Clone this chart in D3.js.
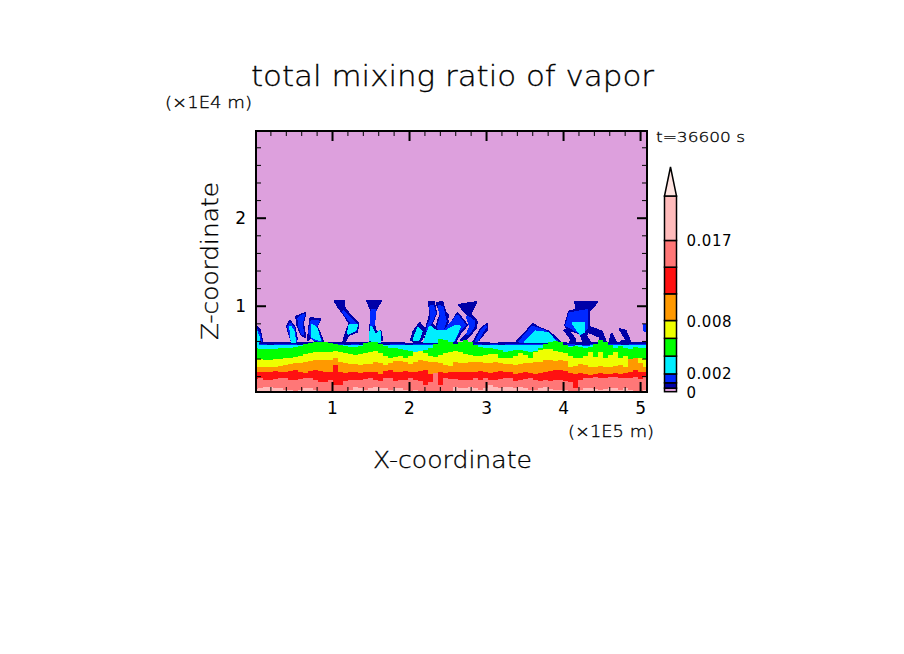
<!DOCTYPE html>
<html>
<head>
<meta charset="utf-8">
<script src="https://cdn.jsdelivr.net/npm/d3@7"></script>
<style>
body { margin: 0; background: #fff; }
text { font-family: "DejaVu Sans", sans-serif; font-weight: 200; fill: #000; stroke: #000; stroke-width: 0.3px; }
text.heavy { font-weight: 400; stroke: none; }
</style>
</head>
<body>
<div id="svg_div"><svg></svg></div>
<script>
// values, x in 1E5 m, z in 1E4 m
// thin top of the moist layer
var baseXs = [0,.1,.2,.3,.4,.5,.6,.7,.8,.9,1,1.1,1.2,1.3,1.4,1.5,1.6,1.7,1.8,1.9,2,2.1,2.2,2.3,2.4,2.5,2.6,2.7,2.8,2.9,3,3.1,3.2,3.3,3.4,3.5,3.6,3.7,3.8,3.9,4,4.1,4.2,4.3,4.4,4.5,4.6,4.7,4.8,4.9,5,5.13];
var darkTop = [.59,.59,.59,.59,.59,.59,.59,.59,.59,.58,.59,.59,.59,.59,.59,.59,.59,.59,.59,.59,.58,.59,.59,.59,.59,.59,.59,.59,.58,.59,.59,.58,.59,.59,.59,.59,.59,.59,.59,.59,.59,.58,.59,.59,.59,.59,.59,.59,.59,.59,.59,.59];
var blueTop = [.56,.56,.555,.56,.56,.56,.555,.56,.56,.555,.56,.56,.555,.56,.555,.56,.56,.555,.56,.56,.555,.56,.56,.56,.56,.56,.555,.56,.555,.56,.555,.56,.555,.56,.56,.56,.56,.56,.56,.555,.555,.56,.555,.555,.56,.555,.56,.56,.555,.56,.56,.56];
var cyanTop = [.55,.55,.55,.55,.555,.555,.55,.555,.55,.55,.55,.55,.55,.55,.55,.55,.555,.55,.55,.55,.55,.55,.555,.555,.555,.555,.55,.55,.55,.55,.55,.55,.55,.55,.55,.555,.555,.555,.555,.55,.55,.545,.55,.545,.55,.55,.55,.55,.55,.55,.55,.55];

// colour band boundaries, one value every 0.065
var bandXs = [0,.065,.13,.195,.26,.325,.39,.455,.52,.585,.65,.715,.78,.845,.91,.975,1.04,1.105,1.17,1.235,1.3,1.365,1.43,1.495,1.56,1.625,1.69,1.755,1.82,1.885,1.95,2.015,2.08,2.145,2.21,2.275,2.34,2.405,2.47,2.535,2.6,2.665,2.73,2.795,2.86,2.925,2.99,3.055,3.12,3.185,3.25,3.315,3.38,3.445,3.51,3.575,3.64,3.705,3.77,3.835,3.9,3.965,4.03,4.095,4.16,4.225,4.29,4.355,4.42,4.485,4.55,4.615,4.68,4.745,4.81,4.875,4.94,5.005,5.065,5.13];
var greenTop = [.515,.508,.508,.508,.508,.515,.523,.523,.531,.546,.561,.576,.591,.591,.584,.576,.561,.553,.546,.531,
	.534,.542,.572,.591,.584,.561,.546,.523,.515,.508,.497,.489,.478,.478,.497,.523,.561,.622,.610,.591,
	.561,.591,.610,.591,.553,.534,.523,.515,.508,.497,.478,.485,.497,.497,.485,.478,.485,.515,.561,
	.591,.599,.584,.553,.534,.546,.534,.523,.534,.561,.610,.584,.553,.523,.546,.523,.508,.534,.523,.515,.515];
var yellowTop = [.394,.394,.387,.387,.394,.394,.402,.409,.417,.432,.447,.462,.470,.470,.478,.478,.485,.470,.459,.447,
	.44,.447,.459,.470,.485,.459,.432,.409,.421,.432,.409,.432,.470,.485,.459,.432,.421,.44,.459,.478,
	.485,.470,.447,.44,.432,.432,.44,.447,.447,.409,.402,.409,.432,.459,.44,.402,.478,.497,.508,
	.508,.485,.478,.459,.432,.402,.409,.432,.470,.421,.470,.409,.44,.478,.402,.432,.394,.402,.409,.394,.394];
var orangeTop = [.307,.307,.30,.30,.307,.318,.326,.334,.345,.353,.364,.372,.379,.379,.383,.383,.402,.356,.345,.334,
	.334,.326,.334,.334,.356,.345,.326,.345,.372,.372,.356,.334,.356,.383,.372,.364,.356,.345,.326,.318,
	.356,.345,.345,.356,.364,.356,.345,.345,.356,.345,.334,.334,.326,.334,.345,.345,.356,.356,.383,
	.383,.372,.383,.372,.307,.318,.334,.326,.307,.307,.318,.307,.307,.318,.326,.307,.394,.402,.345,.307,.307];
var redTop = [.243,.243,.243,.25,.258,.25,.243,.258,.265,.243,.235,.258,.269,.258,.25,.25,.326,.243,.231,.243,
	.243,.231,.243,.25,.243,.22,.258,.269,.25,.25,.258,.25,.243,.258,.269,.22,.231,.243,.231,.25,
	.243,.25,.25,.243,.25,.258,.243,.231,.243,.258,.25,.243,.22,.231,.243,.231,.22,.231,.25,
	.258,.265,.265,.258,.231,.22,.231,.22,.212,.22,.231,.22,.22,.231,.22,.231,.243,.269,.243,.243,.243];
var salmonTop = [.167,.174,.156,.156,.167,.182,.174,.156,.156,.167,.182,.174,.156,.137,.137,.156,.099,.099,.144,.156,
	.156,.156,.167,.174,.156,.144,.174,.182,.144,.156,.156,.174,.156,.144,.099,.137,.231,.099,.174,.167,
	.167,.156,.156,.156,.182,.156,.174,.156,.156,.167,.174,.182,.144,.156,.167,.174,.156,.144,.156,
	.144,.156,.156,.144,.137,.069,.156,.174,.174,.193,.182,.182,.193,.193,.182,.174,.182,.193,.167,.193,.193];
var pinkTop = [.053,.069,.08,.08,.061,.069,.042,.042,.023,.042,.061,.061,.042,.023,.023,.023,.023,.023,.023,.042,
	.08,.061,.042,.061,.08,.061,.061,.042,.061,.069,.042,.023,.042,.023,.023,.023,.023,.023,.023,.023,
	.08,.069,.061,.08,.069,.042,.061,.099,.08,.061,.08,.08,.061,.08,.069,.042,.042,.061,.08,
	.053,.042,.042,.042,.023,.023,.042,.061,.061,.053,.042,.053,.061,.061,.042,.061,.042,.023,.023,.042,.042];

// rising plumes above the moist layer, one outline per list
var darkPlumes = [
	[[0,.77],[.06,.73],[.09,.6],[0,.58]],
	[[.45,.826],[.51,.761],[.54,.629],[.52,.572],[.48,.59],[.42,.761]],
	[[.54,.875],[.65,.913],[.62,.799],[.65,.648],[.61,.667],[.55,.78]],
	[[.72,.856],[.84,.845],[.80,.761],[.84,.686],[.88,.591],[.81,.572],[.72,.648],[.69,.61]],
	[[1.04,1.053],[1.15,1.053],[1.15,.989],[1.23,.894],[1.34,.799],[1.32,.705],[1.21,.667],[1.18,.61],[1.15,.591],[1.18,.686],[1.23,.799],[1.15,.913],[1.08,.989]],
	[[1.46,1.053],[1.63,1.053],[1.56,.951],[1.54,.799],[1.57,.686],[1.63,.705],[1.65,.61],[1.49,.591],[1.50,.761],[1.52,.932]],
	[[2.06,.705],[2.14,.799],[2.21,.723],[2.16,.61],[2.10,.591],[2.03,.61]],
	[[2.26,1.045],[2.32,1.045],[2.35,.913],[2.29,.799],[2.36,.742],[2.38,.837],[2.42,.913],[2.36,1.027],[2.43,1.045],[2.50,.82],[2.45,.686],[2.53,.686],[2.53,.591],[2.21,.591],[2.23,.761],[2.28,.913]],
	[[2.47,.93],[2.50,.894],[2.49,.799],[2.47,.78]],
	[[2.65,1.008],[2.87,1.038],[2.81,.932],[2.79,.905],[2.88,.82],[2.86,.742],[2.73,.61],[2.68,.61],[2.84,.761],[2.81,.856],[2.73,.932]],
	[[2.63,.913],[2.75,.78],[2.66,.686],[2.60,.591],[2.47,.591],[2.47,.705],[2.55,.799]],
	[[3.01,.788],[3.01,.731],[2.90,.61],[2.84,.591],[2.94,.742]],
	[[3.40,.591],[3.61,.788],[3.70,.742],[3.81,.705],[3.96,.591]],
	[[4.16,1.045],[4.44,1.045],[4.39,.989],[4.33,.932],[4.33,.761],[4.50,.705],[4.55,.591],[4.50,.553],[4.48,.648],[4.33,.705],[4.29,.667],[4.37,.553],[4.29,.553],[4.22,.686],[4.05,.742],[4.03,.78],[4.08,.932],[4.18,.951]],
	[[4.02,.723],[4.07,.715],[4.16,.61],[4.13,.572],[4.09,.58],[4.11,.617]],
	[[4.63,.678],[4.68,.591],[4.61,.591]],
	[[4.74,.731],[4.81,.715],[4.87,.591],[4.76,.591],[4.83,.61]]
];
var bluePlumes = [
	[[.02,.72],[.05,.68],[.07,.6],[.02,.59]],
	[[.46,.79],[.5,.74],[.525,.6],[.48,.6],[.44,.76]],
	[[.57,.86],[.63,.89],[.6,.8],[.62,.68],[.58,.76]],
	[[.74,.82],[.82,.82],[.78,.75],[.82,.68],[.85,.6],[.76,.62],[.71,.7]],
	[[1.15,.93],[1.3,.80],[1.3,.72],[1.21,.70],[1.26,.80]],
	[[1.52,.951],[1.56,.951],[1.54,.8],[1.51,.76]],
	[[2.28,.99],[2.31,.99],[2.33,.91],[2.26,.79],[2.24,.72],[2.3,.85]],
	[[2.39,.99],[2.43,.98],[2.47,.82],[2.43,.72],[2.38,.75],[2.42,.88]],
	[[2.76,.87],[2.84,.82],[2.83,.75],[2.76,.68],[2.80,.76]],
	[[2.63,.88],[2.72,.78],[2.63,.7],[2.58,.6],[2.47,.6],[2.47,.72],[2.55,.8]],
	[[2.99,.76],[2.96,.72],[2.88,.6],[2.95,.72]],
	[[3.44,.59],[3.6,.755],[3.77,.705],[3.92,.59]],
	[[4.09,.91],[4.31,.943],[4.31,.76],[4.24,.686],[4.05,.78]],
	[[5.06,.78],[5.10,.78],[5.10,.705],[5.06,.723]]
];
var cyanPlumes = [
	[[.02,.705],[.05,.63],[.04,.57],[.02,.57]],
	[[.46,.76],[.50,.705],[.52,.59],[.48,.59]],
	[[.74,.78],[.80,.74],[.84,.61],[.74,.648]],
	[[1.23,.78],[1.32,.78],[1.30,.723],[1.21,.686]],
	[[1.49,.61],[1.51,.76],[1.56,.667],[1.62,.705],[1.62,.59]],
	[[2.06,.61],[2.12,.742],[2.16,.705],[2.12,.61]],
	[[2.2,.59],[2.27,.761],[2.36,.705],[2.40,.705],[2.47,.705],[2.60,.77],[2.66,.761],[2.58,.61],[2.53,.59]],
	[[3.51,.59],[3.64,.705],[3.81,.686],[3.90,.59]],
	[[4.13,.799],[4.27,.799],[4.27,.705],[4.22,.686]]
];

var xMajor = [1,2,3,4,5];
var xMinor = [.2,.4,.6,.8,1.2,1.4,1.6,1.8,2.2,2.4,2.6,2.8,3.2,3.4,3.6,3.8,4.2,4.4,4.6,4.8,5];
var zMajor = [1,2];
var zMinor = [.2,.4,.6,.8,1.2,1.4,1.6,1.8,2.2,2.4,2.6,2.8];

// colour bar
var levels = [0,.0004,.001,.002,.004,.006,.008,.011,.014,.017,.022];
var levelColors = ["#dda0dd","#0000a8","#0028ff","#00eeff","#00ff00","#eeff00","#ff9900","#ff1111","#ff7777","#ffbbbb"];
var overColor = "#ffe4e1";
var barLabels = [0,.002,.008,.017];

var w = 904, h = 654;
var svg = d3.select("#svg_div").select("svg").attr("width", w).attr("height", h).style("display", "block");

var plotLeft = 256, plotRight = 647, plotTop = 131, plotBottom = 392;
var xScale = d3.scaleLinear().domain([.013, 5.09]).range([plotLeft, plotRight]);
var zScale = d3.scaleLinear().domain([.02, 2.985]).range([plotBottom, plotTop]);

svg.append("clipPath").attr("id", "plot").append("rect")
	.attr("x", plotLeft).attr("y", plotTop).attr("width", plotRight - plotLeft).attr("height", plotBottom - plotTop);

var plot = svg.append("g").attr("clip-path", "url(#plot)").attr("shape-rendering", "crispEdges");
plot.append("rect").attr("x", plotLeft).attr("y", plotTop).attr("width", plotRight - plotLeft).attr("height", plotBottom - plotTop)
	.attr("fill", levelColors[0]);

var line = d3.line()
	.x(function(d) { return xScale(d[0]); })
	.y(function(d) { return zScale(d[1]); })
	.curve(d3.curveLinearClosed);

function drawPlumes(list, color, grow) {
	plot.append("g").selectAll("path").data(list).enter().append("path")
		.attr("d", line).attr("fill", color)
		.attr("stroke", color).attr("stroke-width", grow).attr("stroke-linejoin", "round");
}
function drawLayer(values, xValues, color) {
	var area = d3.area()
		.x(function(d, i) { return xScale(xValues[i]); })
		.y0(plotBottom)
		.y1(function(d) { return zScale(d); })
		.curve(d3.curveStep);
	plot.append("path").attr("d", area(values)).attr("fill", color);
}

drawLayer(darkTop, baseXs, levelColors[1]);
drawPlumes(darkPlumes, levelColors[1], 2.5);
drawLayer(blueTop, baseXs, levelColors[2]);
drawPlumes(bluePlumes, levelColors[2], 3);
drawLayer(cyanTop, baseXs, levelColors[3]);
drawPlumes(cyanPlumes, levelColors[3], 2.5);
drawLayer(greenTop, bandXs, levelColors[4]);
drawLayer(yellowTop, bandXs, levelColors[5]);
drawLayer(orangeTop, bandXs, levelColors[6]);
drawLayer(redTop, bandXs, levelColors[7]);
drawLayer(salmonTop, bandXs, levelColors[8]);
drawLayer(pinkTop, bandXs, levelColors[9]);

// ticks point inward on all four sides
function addAxis(axis, tx, ty, values, size, weight, labelled) {
	var g = svg.append("g").attr("transform", "translate(" + tx + "," + ty + ")")
		.call(axis.tickValues(values).tickSize(-size).tickPadding(labelled ? 10 : 0)
			.tickFormat(labelled ? d3.format("d") : ""));
	g.select(".domain").remove();
	g.selectAll("line").attr("stroke", "#000").attr("stroke-width", weight);
	g.selectAll("text").attr("class", "heavy").style("font-size", "17px");
}
addAxis(d3.axisBottom(xScale), 0, plotBottom, xMinor, 5, 1, false);
addAxis(d3.axisBottom(xScale), 0, plotBottom, xMajor, 10, 2, true);
addAxis(d3.axisTop(xScale), 0, plotTop, xMinor, 5, 1, false);
addAxis(d3.axisTop(xScale), 0, plotTop, xMajor, 10, 2, false);
addAxis(d3.axisLeft(zScale), plotLeft, 0, zMinor, 5, 1, false);
addAxis(d3.axisLeft(zScale), plotLeft, 0, zMajor, 10, 2, true);
addAxis(d3.axisRight(zScale), plotRight, 0, zMinor, 5, 1, false);
addAxis(d3.axisRight(zScale), plotRight, 0, zMajor, 10, 2, false);

svg.append("rect").attr("x", plotLeft).attr("y", plotTop).attr("width", plotRight - plotLeft).attr("height", plotBottom - plotTop)
	.attr("fill", "none").attr("stroke", "#000").attr("stroke-width", 2);

// colour bar
var barX = 664.5, barW = 12;
var barScale = d3.scaleLinear().domain([0, .022]).range([391.7, 196]);
svg.append("g").selectAll("rect").data(levelColors).enter().append("rect")
	.attr("x", barX).attr("width", barW)
	.attr("y", function(d, i) { return barScale(levels[i + 1]); })
	.attr("height", function(d, i) { return barScale(levels[i]) - barScale(levels[i + 1]); })
	.attr("fill", function(d) { return d; })
	.attr("stroke", "#000").attr("stroke-width", 1.5);
svg.append("path")
	.attr("d", "M" + barX + "," + barScale(.022) + "L" + (barX + barW / 2) + ",167L" + (barX + barW) + "," + barScale(.022) + "Z")
	.attr("fill", overColor).attr("stroke", "#000").attr("stroke-width", 1.5);
svg.append("g").selectAll("text").data(barLabels).enter().append("text")
	.attr("class", "heavy")
	.attr("x", 686.5)
	.attr("y", function(d) { return barScale(d) + (d == .002 ? 5 : 6); })
	.attr("font-size", 15)
	.attr("textLength", function(d) { return d == 0 ? null : 45; })
	.text(function(d) { return d == 0 ? "0" : String(d); });

// titles and unit labels
function label(str, x, y, size, length) {
	return svg.append("text").attr("x", x).attr("y", y).attr("font-size", size)
		.attr("textLength", length).attr("lengthAdjust", "spacingAndGlyphs").text(str);
}
label("total mixing ratio of vapor", 251, 86, 28, 403);
label("(×1E4 m)", 165, 108, 15, 87);
label("(×1E5 m)", 568, 437, 15, 86);
label("X-coordinate", 373, 468, 23, 159);
label("t=36600 s", 656, 142, 14, 89);
label("Z-coordinate", 0, 0, 23, 158)
	.attr("transform", "translate(218,340) rotate(-90)");
</script>
</body>
</html>
